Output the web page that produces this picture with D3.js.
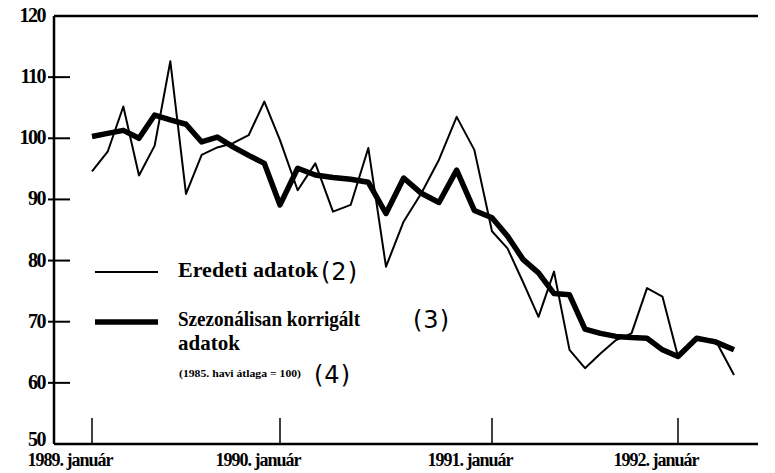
<!DOCTYPE html>
<html>
<head>
<meta charset="utf-8">
<script src="https://cdn.jsdelivr.net/npm/d3@7"></script>
<style>
  body { margin: 0; background: #fff; }
  svg { display: block; }
  .serif { font-family: "Liberation Serif", "Times New Roman", serif; font-weight: bold; fill: #000; }
  .sans { font-family: "DejaVu Sans", sans-serif; fill: #000; }
</style>
</head>
<body>
<svg></svg>
<script>
const size = {w: 775, h: 473};
const svg = d3.select('svg')
    .attr('width', size.w)
    .attr('height', size.h);

// months counted from 1989. január (0) to 1992. április (39)
const months = d3.range(40);

// Eredeti adatok
const original = [
    94.6, 97.8, 105.2, 93.9, 98.8, 112.6, 90.9, 97.3, 98.5, 99.2, 100.5, 106.0,
    99.7, 91.5, 95.9, 88.0, 89.1, 98.4, 79.0, 86.4, 91.0, 96.5, 103.5, 98.1,
    84.8, 82.0, 76.5, 70.8, 78.2, 65.4, 62.4, 64.8, 67.0, 68.1, 75.5, 74.1,
    64.3, 67.3, 67.0, 61.3
];

// Szezonálisan korrigált adatok
const adjusted = [
    100.3, 100.8, 101.3, 100.0, 103.8, 103.0, 102.3, 99.4, 100.2, 98.6, 97.2, 95.9,
    89.1, 95.1, 94.0, 93.6, 93.3, 92.8, 87.7, 93.5, 91.0, 89.5, 94.8, 88.2,
    87.0, 84.0, 80.2, 78.0, 74.6, 74.4, 68.8, 68.1, 67.6, 67.4, 67.3, 65.4,
    64.3, 67.3, 66.7, 65.4
];

const yTicks = [50, 60, 70, 80, 90, 100, 110, 120];
const xTickMonths = [0, 12, 24, 36];
const xTickLabels = ['1989. január', '1990. január', '1991. január', '1992. január'];

// the printed chart is hand drawn, years are not equally wide
const x = d3.scaleLinear()
    .domain([0, 12, 24, 36, 39])
    .range([92, 280, 492, 678, 734]);

const y = d3.scaleLinear()
    .domain([50, 120])
    .range([444, 16]);

const left = 54, right = 758;

// frame: left axis, top and bottom lines
svg.append('line')
    .attr('x1', left).attr('x2', left)
    .attr('y1', y(120)).attr('y2', y(50))
    .attr('stroke', '#000').attr('stroke-width', 2.5);
svg.append('line')
    .attr('x1', left).attr('x2', right)
    .attr('y1', y(120)).attr('y2', y(120))
    .attr('stroke', '#000').attr('stroke-width', 2.5);
svg.append('line')
    .attr('x1', left).attr('x2', right)
    .attr('y1', y(50)).attr('y2', y(50))
    .attr('stroke', '#000').attr('stroke-width', 2.5);

// y ticks and labels
let yG = svg.append('g');
yG.selectAll('line')
    .data(yTicks.filter(d => d > 50 && d < 120))
    .enter()
    .append('line')
    .attr('x1', left - 6).attr('x2', left + 16)
    .attr('y1', d => y(d)).attr('y2', d => y(d))
    .attr('stroke', '#000').attr('stroke-width', 2);
yG.selectAll('text')
    .data(yTicks)
    .enter()
    .append('text')
    .classed('serif', true)
    .attr('x', 45)
    .attr('y', d => d === 50 ? y(d) + 2 : y(d) + 6)
    .attr('text-anchor', 'end')
    .style('font-size', '20px')
    .style('letter-spacing', '-1.5px')
    .text(d => d);

// x ticks and labels
let xG = svg.append('g');
xG.selectAll('line')
    .data(xTickMonths)
    .enter()
    .append('line')
    .attr('x1', d => x(d)).attr('x2', d => x(d))
    .attr('y1', y(50) - 26).attr('y2', y(50))
    .attr('stroke', '#000').attr('stroke-width', 1.5);
xG.selectAll('text')
    .data(xTickMonths)
    .enter()
    .append('text')
    .classed('serif', true)
    .attr('x', d => x(d) - 22)
    .attr('y', 466)
    .attr('text-anchor', 'middle')
    .style('font-size', '18px')
    .style('letter-spacing', '-1px')
    .text((d, i) => xTickLabels[i]);

// the two series
const line = d3.line()
    .x((d, i) => x(months[i]))
    .y(d => y(d));

svg.append('path')
    .datum(original)
    .attr('d', line)
    .attr('fill', 'none')
    .attr('stroke', '#000')
    .attr('stroke-width', 2)
    .attr('stroke-linejoin', 'round');

svg.append('path')
    .datum(adjusted)
    .attr('d', line)
    .attr('fill', 'none')
    .attr('stroke', '#000')
    .attr('stroke-width', 5.5)
    .attr('stroke-linejoin', 'round');

// legend
let legG = svg.append('g');
legG.append('line')
    .attr('x1', 95).attr('x2', 158)
    .attr('y1', 272).attr('y2', 272)
    .attr('stroke', '#000').attr('stroke-width', 2);
legG.append('line')
    .attr('x1', 95).attr('x2', 158)
    .attr('y1', 322).attr('y2', 322)
    .attr('stroke', '#000').attr('stroke-width', 5.5);

legG.append('text').classed('serif', true)
    .attr('x', 178).attr('y', 277)
    .attr('textLength', 140)
    .attr('lengthAdjust', 'spacingAndGlyphs')
    .style('font-size', '21px')
    .text('Eredeti adatok');
legG.append('text').classed('sans', true)
    .attr('x', 321).attr('y', 280)
    .style('font-size', '24px')
    .style('letter-spacing', '1px')
    .text('(2)');

legG.append('text').classed('serif', true)
    .attr('x', 178).attr('y', 326)
    .attr('textLength', 182)
    .attr('lengthAdjust', 'spacingAndGlyphs')
    .style('font-size', '21px')
    .text('Szezonálisan korrigált');
legG.append('text').classed('sans', true)
    .attr('x', 413).attr('y', 328)
    .style('font-size', '24px')
    .style('letter-spacing', '1px')
    .text('(3)');
legG.append('text').classed('serif', true)
    .attr('x', 178).attr('y', 350)
    .style('font-size', '21px')
    .text('adatok');
legG.append('text').classed('serif', true)
    .attr('x', 179).attr('y', 377)
    .attr('textLength', 122)
    .attr('lengthAdjust', 'spacingAndGlyphs')
    .style('font-size', '11px')
    .text('(1985. havi átlaga = 100)');
legG.append('text').classed('sans', true)
    .attr('x', 314).attr('y', 383)
    .style('font-size', '24px')
    .style('letter-spacing', '1px')
    .text('(4)');
</script>
</body>
</html>
